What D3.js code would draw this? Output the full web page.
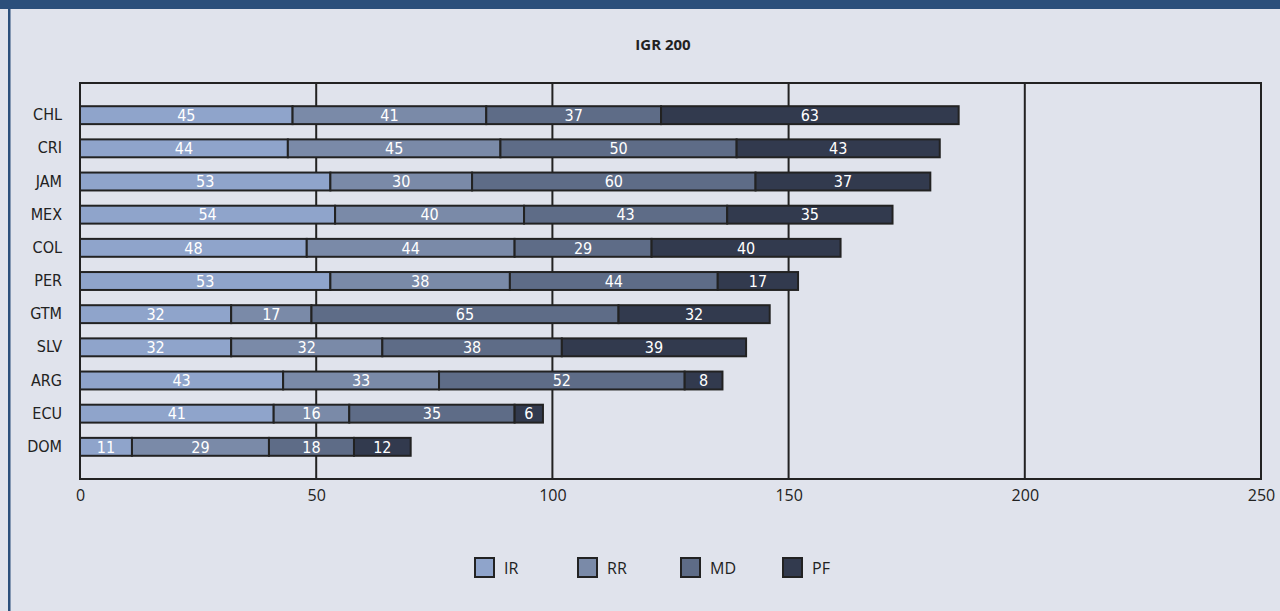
<!DOCTYPE html>
<html>
<head>
<meta charset="utf-8">
<script src="https://cdn.jsdelivr.net/npm/d3@7/dist/d3.min.js"></script>
<style>
  html, body { margin: 0; padding: 0; background: #e0e3ec; }
  svg { display: block; }
</style>
</head>
<body>
<svg id="chart" width="1280" height="611"></svg>
<script>
// Countries, top to bottom
const countries = ["CHL", "CRI", "JAM", "MEX", "COL", "PER", "GTM", "SLV", "ARG", "ECU", "DOM"];
// Components of the index
const seriesNames = ["IR", "RR", "MD", "PF"];
const IR = [45, 44, 53, 54, 48, 53, 32, 32, 43, 41, 11];
const RR = [41, 45, 30, 40, 44, 38, 17, 32, 33, 16, 29];
const MD = [37, 50, 60, 43, 29, 44, 65, 38, 52, 35, 18];
const PF = [63, 43, 37, 35, 40, 17, 32, 39, 8, 6, 12];
const xTicks = [0, 50, 100, 150, 200, 250];
const title = "IGR 200";

const colors = ["#8fa4cb", "#7a8aa8", "#5e6c87", "#323a4e"];
const narrow = "'DejaVu Sans Condensed', 'Liberation Sans Narrow', sans-serif";
const regular = "'Open Sans', sans-serif";

const svg = d3.select("#chart");
const W = 1280, H = 611;

// frame: top band and left rule
svg.append("rect").attr("x", 0).attr("y", 0).attr("width", W).attr("height", H).attr("fill", "#e0e3ec");
svg.append("rect").attr("x", 0).attr("y", 0).attr("width", W).attr("height", 9).attr("fill", "#2b4f7b");
svg.append("rect").attr("x", 8).attr("y", 9).attr("width", 2.5).attr("height", H - 9).attr("fill", "#2b4f7b");

const plot = { left: 80, top: 83, right: 1261, bottom: 479 };

const x = d3.scaleLinear().domain([0, 250]).range([plot.left, plot.right]);
const y = d3.scaleBand().domain(countries).range([plot.top, plot.bottom])
  .paddingInner(0.46).paddingOuter(0.7);

// title
svg.append("text").attr("x", 663).attr("y", 50)
  .attr("text-anchor", "middle")
  .attr("font-family", regular).attr("font-weight", "bold")
  .attr("font-size", 15).attr("fill", "#222")
  .text(title);

// vertical grid lines
svg.append("g").selectAll("line").data(xTicks.slice(1, -1)).join("line")
  .attr("x1", d => x(d)).attr("x2", d => x(d))
  .attr("y1", plot.top).attr("y2", plot.bottom)
  .attr("stroke", "#222").attr("stroke-width", 2);

// stacked data
const rows = countries.map((c, i) => ({ country: c, IR: IR[i], RR: RR[i], MD: MD[i], PF: PF[i] }));
const stacked = d3.stack().keys(seriesNames)(rows);

const layers = svg.append("g").selectAll("g").data(stacked).join("g")
  .attr("fill", (d, i) => colors[i]);

layers.selectAll("rect").data(d => d).join("rect")
  .attr("x", d => x(d[0]))
  .attr("width", d => x(d[1]) - x(d[0]))
  .attr("y", d => y(d.data.country))
  .attr("height", y.bandwidth())
  .attr("stroke", "#222").attr("stroke-width", 2);

// value labels
layers.selectAll("text").data(d => d.map(v => ({ v, key: d.key }))).join("text")
  .attr("x", d => (x(d.v[0]) + x(d.v[1])) / 2)
  .attr("y", d => y(d.v.data.country) + y.bandwidth() / 2)
  .attr("dy", "0.36em")
  .attr("text-anchor", "middle")
  .attr("font-family", narrow)
  .attr("font-size", 16).attr("fill", "#fff")
  .text(d => d.v.data[d.key]);

// plot border
svg.append("rect")
  .attr("x", plot.left).attr("y", plot.top)
  .attr("width", plot.right - plot.left).attr("height", plot.bottom - plot.top)
  .attr("fill", "none").attr("stroke", "#222").attr("stroke-width", 2);

// category axis
const yAxis = svg.append("g").attr("transform", `translate(${plot.left},0)`)
  .call(d3.axisLeft(y).tickSize(0).tickPadding(18));
yAxis.select(".domain").remove();
yAxis.selectAll("text")
  .attr("font-family", narrow)
  .attr("font-size", 16).attr("fill", "#222");

// value axis
const xAxis = svg.append("g").attr("transform", `translate(0,${plot.bottom})`)
  .call(d3.axisBottom(x).tickValues(xTicks).tickSize(0).tickPadding(11));
xAxis.select(".domain").remove();
xAxis.selectAll("text")
  .attr("font-family", regular)
  .attr("font-size", 16).attr("fill", "#222");

// legend
const legendX = [475, 578, 681, 783];
const legend = svg.append("g").selectAll("g").data(seriesNames).join("g")
  .attr("transform", (d, i) => `translate(${legendX[i]},558)`);
legend.append("rect").attr("x", 0).attr("y", 0).attr("width", 19).attr("height", 19)
  .attr("fill", (d, i) => colors[i]).attr("stroke", "#222").attr("stroke-width", 2);
legend.append("text").attr("x", 29).attr("y", 10).attr("dy", "0.36em")
  .attr("font-family", regular).attr("font-size", 16).attr("fill", "#222")
  .text(d => d);
</script>
</body>
</html>
